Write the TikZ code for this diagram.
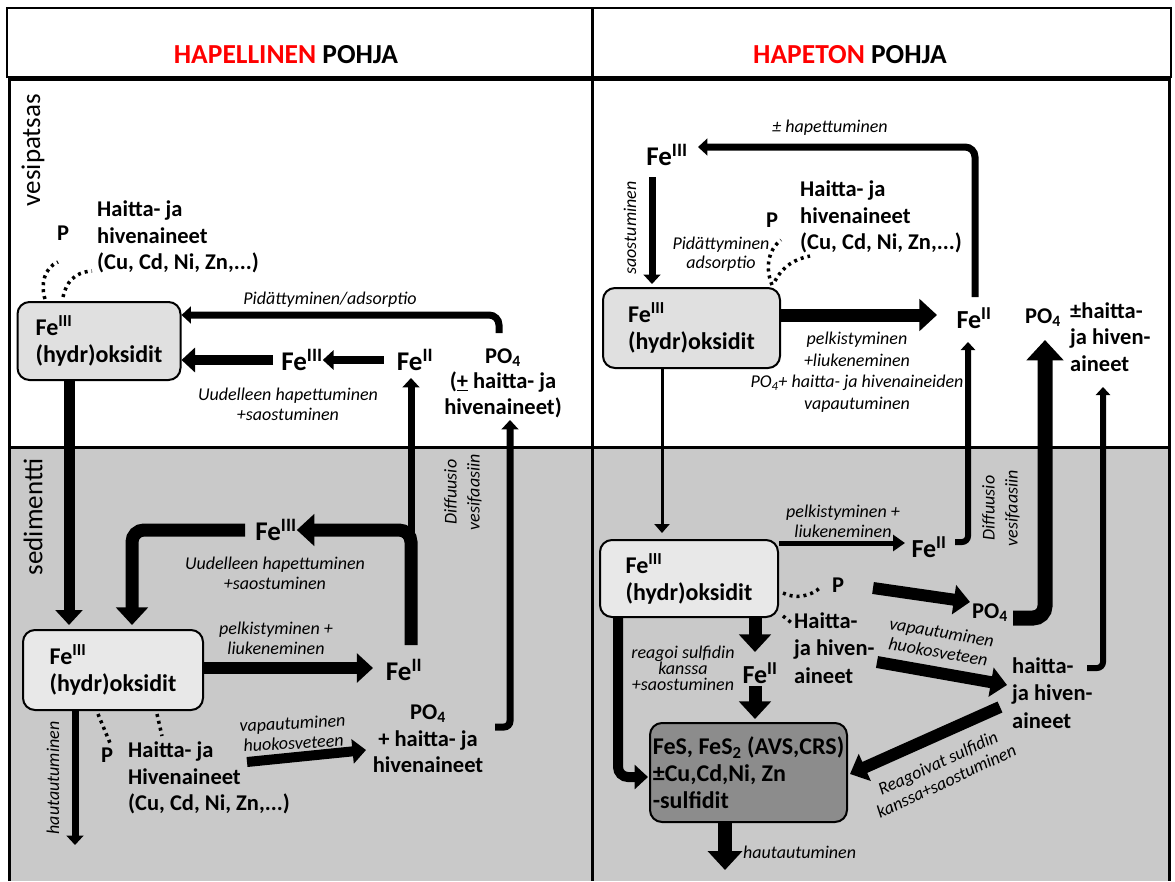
\documentclass[tikz,border=0pt]{standalone}
\usepackage{fontspec}
\setmainfont{Carlito}
\usetikzlibrary{arrows.meta}
\definecolor{sed}{HTML}{C9C9C9}
\definecolor{boxa}{HTML}{E0E0E0}
\definecolor{boxb}{HTML}{E8E8E8}
\definecolor{boxc}{HTML}{8C8C8C}
\definecolor{titred}{HTML}{FF0000}
\begin{document}
\begin{tikzpicture}[x=1pt,y=-1pt,
  title/.style={font=\fontsize{27.5}{30}\selectfont\bfseries, inner sep=0pt},
  side/.style={font=\fontsize{27}{30}\selectfont, rotate=90, inner sep=0pt},
  bl/.style={font=\fontsize{22.5}{26.5}\selectfont\bfseries, align=left, inner sep=0pt},
  blc/.style={font=\fontsize{22.5}{25.5}\selectfont\bfseries, align=center, inner sep=0pt},
  fe/.style={font=\fontsize{27}{30}\selectfont\bfseries, inner sep=0pt},
  it/.style={font=\fontsize{18}{20}\selectfont\itshape, align=center, inner sep=0pt},
  fbox/.style={draw, line width=2pt, rounded corners=12pt, align=left,
    font=\fontsize{24}{27}\selectfont\bfseries, inner sep=0pt},
  arr/.style={line width=#1, -{Triangle[length=0pt 1.35,width=0pt 2.4]}},
  dots/.style={line width=3.5pt, dash pattern=on 3pt off 4pt}]
\useasboundingbox (0,0) rectangle (1175,881);
\fill[white] (0,0) rectangle (1175,881);
\fill[sed] (9,447) rectangle (1169,881);
% frames
\draw[line width=2pt] (7,8) rectangle (1171,77);
\draw[line width=3pt] (9,881) -- (9,79) -- (1169,79) -- (1169,881);
\draw[line width=3pt] (592,8) -- (592,881);
\draw[line width=3pt] (9,447) -- (1169,447);
% titles
\node[title] (tL) at (286,55) {\textcolor{titred}{HAPELLINEN} POHJA};
\node[title] (tR) at (850,55) {\textcolor{titred}{HAPETON} POHJA};
\node[side] (vesi) at (33,150) {vesipatsas};
\node[side] (sedi) at (33,517) {sedimentti};

% ================= LEFT PANEL, water =================
\node[bl] (P1) at (63,233) {P};
\node[bl, anchor=west] (hv1) at (97,237) {Haitta- ja\\hivenaineet\\(Cu, Cd, Ni, Zn,...)};
\node[fbox, fill=boxa, minimum width=163pt, minimum height=78pt] (box1) at (99,341)
  {Fe\textsuperscript{III}\\(hydr)oksidit};
\coordinate (d1a) at (45,299); \coordinate (d1b) at (58,262);
\coordinate (d2a) at (63,297); \coordinate (d2b) at (92,271);
\draw[dots] (d1a) .. controls (40,284) and (45,267) .. (d1b);
\draw[dots] (d2a) .. controls (66,283) and (74,272) .. (d2b);
\node[fe] (feIIIw) at (302,360) {Fe\textsuperscript{III}};
\node[fe] (feIIw) at (415,360) {Fe\textsuperscript{II}};
\node[blc] (po4w) at (503,383) {PO\textsubscript{4}\\(\underline{+} haitta- ja\\hivenaineet)};
\coordinate (pw1) at (499,333); \coordinate (pw2) at (499,315);
\draw[arr=7pt, rounded corners=10pt] (pw1) -- (pw2) -- (box1.east |- pw2);
\node[it] (lp1) at (330,300) {Pidättyminen/adsorptio};
\draw[arr=10pt] ([xshift=-8pt]feIIIw.west) -- (box1.east |- feIIIw.west);
\draw[arr=8pt] ([xshift=-13pt]feIIw.west) -- (feIIIw.east);
\node[it] (lu1) at (288,404) {Uudelleen hapettuminen\\+saostuminen};

% ================= LEFT PANEL, sediment =================
\node[fbox, fill=boxb, minimum width=180pt, minimum height=80pt] (box2) at (113,670)
  {Fe\textsuperscript{III}\\(hydr)oksidit};
\coordinate (b12) at (69,625);
\draw[arr=11pt] (box1.south -| b12) -- (b12);
\node[fe] (feIIIs) at (276,530) {Fe\textsuperscript{III}};
\node[fe] (feIIs1) at (404,670) {Fe\textsuperscript{II}};
\coordinate (fs0) at (411,645);
\coordinate (fwt) at (411,378);
\draw[arr=7pt] (fs0) -- (fwt);
\draw[arr=13pt, rounded corners=12pt] (fs0) |- (feIIIs.east);
\coordinate (b2t) at (132,625);
\draw[arr=13pt, rounded corners=12pt] ([xshift=-10pt]feIIIs.west) -| (b2t);
\node[it] (lu2) at (275,573) {Uudelleen hapettuminen\\+saostuminen};
\coordinate (fs1) at (373,668);
\draw[arr=12pt] (box2.east |- fs1) -- (fs1);
\node[it] (lpk1) at (276,638) {pelkistyminen +\\liukeneminen};
\node[blc, font=\fontsize{22.5}{26.5}\selectfont\bfseries] (po4s1) at (428,739)
  {PO\textsubscript{4}\\+ haitta- ja\\hivenaineet};
\coordinate (ps1) at (495,727); \coordinate (pwt) at (510,420);
\draw[arr=7pt, rounded corners=6pt] (ps1) -| (pwt);
\node[it, rotate=90, font=\fontsize{18}{23}\selectfont\itshape] (dif1) at (463,492) {Diffuusio\\vesifaasiin};
\coordinate (d3a) at (98,714); \coordinate (d3b) at (110,743);
\coordinate (d4a) at (157,714); \coordinate (d4b) at (162,736);
\draw[dots] (d3a) -- (d3b);
\draw[dots] (d4a) -- (d4b);
\node[bl] (P4) at (107,755) {P};
\node[bl, anchor=west] (hv2) at (128,778) {Haitta- ja\\Hivenaineet\\(Cu, Cd, Ni, Zn,...)};
\coordinate (va1) at (247,762); \coordinate (va2) at (366,750);
\draw[arr=10pt] (va1) -- (va2);
\node[it, rotate=3] (lv1) at (293,733) {vapautuminen\\huokosveteen};
\coordinate (hb1) at (75,845);
\draw[arr=7pt] (box2.south -| hb1) -- (hb1);
\node[it, rotate=90] (lh1) at (53,778) {hautautuminen};

% ================= RIGHT PANEL, water =================
\node[fe] (feIIIr) at (667,155) {Fe\textsuperscript{III}};
\node[fbox, fill=boxa, minimum width=177pt, minimum height=80pt] (box3) at (691.5,328)
  {Fe\textsuperscript{III}\\(hydr)oksidit};
\coordinate (s1) at (652,177); \coordinate (s2) at (652,284);
\draw[arr=7pt] (s1) -- (s2);
\node[it, rotate=90] (lsa) at (630,228) {saostuminen};
\node[fe, font=\fontsize{26}{30}\selectfont\bfseries] (feIIr) at (974,318) {Fe\textsuperscript{II}};
\coordinate (h1) at (975,297); \coordinate (h2) at (698,147);
\draw[arr=7pt, rounded corners=10pt] (h1) |- (h2);
\node[it] (lhp) at (830,128) {± hapettuminen};
\node[bl] (P2) at (772,220) {P};
\node[it, font=\fontsize{18}{18.5}\selectfont\itshape] (lp2) at (721,254) {Pidättyminen\\adsorptio};
\node[bl, anchor=west] (hv3) at (800,217) {Haitta- ja\\hivenaineet\\(Cu, Cd, Ni, Zn,...)};
\coordinate (d5a) at (772,285); \coordinate (d5b) at (781,240);
\coordinate (d6a) at (775,281); \coordinate (d6b) at (810,256);
\draw[dots] (d5a) .. controls (765,268) and (768,250) .. (d5b);
\draw[dots] (d6a) .. controls (783,266) and (795,259) .. (d6b);
\coordinate (b3e) at (937,315);
\draw[arr=13pt] (box3.east |- b3e) -- (b3e);
\node[it, font=\fontsize{18}{21.5}\selectfont\itshape] (lpk3) at (857,372)
  {pelkistyminen\\+liukeneminen\\PO\textsubscript{4}+ haitta- ja hivenaineiden\\vapautuminen};
\node[bl] (po4r) at (1043,318) {PO\textsubscript{4}};
\node[bl, anchor=west] (hvr) at (1070,337) {±haitta-\\ja hiven-\\aineet};

% ================= RIGHT PANEL, sediment =================
\node[fbox, fill=boxb, minimum width=178pt, minimum height=77pt] (box4) at (689,578.5)
  {Fe\textsuperscript{III}\\(hydr)oksidit};
\coordinate (b4t) at (662,533);
\draw[line width=3pt, -{Triangle[length=9pt,width=15pt]}] (box3.south -| b4t) -- (b4t);
\node[fe, font=\fontsize{26}{30}\selectfont\bfseries] (feIIs2) at (929,547) {Fe\textsuperscript{II}};
\coordinate (f2t) at (905,543);
\draw[line width=5pt, -{Triangle[length=12pt,width=16pt]}] (box4.east |- f2t) -- (f2t);
\node[it] (lpk4) at (843,521) {pelkistyminen +\\liukeneminen};
\coordinate (f2a) at (955,542); \coordinate (f2b) at (968,342);
\draw[arr=6pt, rounded corners=6pt] (f2a) -| (f2b);
\node[it, rotate=90, font=\fontsize{18}{23}\selectfont\itshape] (dif2) at (1001,508) {Diffuusio\\vesifaasiin};
\node[bl] (P3) at (838,585) {P};
\coordinate (d7a) at (783,593); \coordinate (d7b) at (821,587);
\draw[dots] (d7a) .. controls (795,599) and (810,597) .. (d7b);
\coordinate (d8a) at (783,616); \coordinate (d8b) at (793,624);
\draw[dots] (d8a) -- (d8b);
\node[bl, font=\fontsize{22.5}{27.5}\selectfont\bfseries, anchor=west] (hv4) at (794,648) {Haitta-\\ja hiven-\\aineet};
\node[bl] (po4s2) at (990,613) {PO\textsubscript{4}};
\coordinate (pa1) at (873,588); \coordinate (pa2) at (970,602);
\draw[arr=12pt] (pa1) -- (pa2);
\node[bl, font=\fontsize{22.5}{27.5}\selectfont\bfseries, anchor=west] (hv5) at (1012,693) {haitta-\\ja hiven-\\aineet};
\coordinate (ha1) at (877,662); \coordinate (ha2) at (1007,685);
\draw[arr=12pt] (ha1) -- (ha2);
\node[it, rotate=-10] (lv2) at (940,642) {vapautuminen\\huokosveteen};
\coordinate (pb1) at (1013,618); \coordinate (pb2) at (1045,340);
\draw[arr=15pt, rounded corners=12pt] (pb1) -| (pb2);
\coordinate (hc1) at (1087,668); \coordinate (hc2) at (1103,387);
\draw[arr=6pt, rounded corners=6pt] (hc1) -| (hc2);
\node[fbox, fill=boxc, minimum width=197pt, minimum height=99pt] (box5) at (748.5,772.5)
  {FeS, FeS\textsubscript{2} (AVS,CRS)\\±Cu,Cd,Ni, Zn\\-sulfidit};
\coordinate (ra1) at (1000,707); \coordinate (ra2) at (850,774);
\draw[arr=12pt] (ra1) -- (ra2);
\node[it, rotate=25] (lr) at (942,772) {Reagoivat sulfidin\\kanssa+saostuminen};
\node[fe, font=\fontsize{26}{30}\selectfont\bfseries] (feIIs3) at (760,673) {Fe\textsuperscript{II}};
\coordinate (f3a) at (755,652);
\draw[arr=13pt] (box4.south -| f3a) -- (f3a);
\coordinate (f3b) at (755,686); \coordinate (f3c) at (755,719);
\draw[arr=13pt] (f3b) -- (f3c);
\node[it, font=\fontsize{18}{15.5}\selectfont\itshape] (lrs) at (683,668) {reagoi sulfidin\\kanssa\\+saostuminen};
\coordinate (b4l) at (618,617); \coordinate (b5l) at (648,777);
\draw[arr=10pt, rounded corners=10pt] (b4l) |- (b5l);
\coordinate (hb2) at (725,870);
\draw[arr=14pt] (box5.south -| hb2) -- (hb2);
\node[it, anchor=west] (lh2) at (743,852) {hautautuminen};
\end{tikzpicture}
\end{document}
